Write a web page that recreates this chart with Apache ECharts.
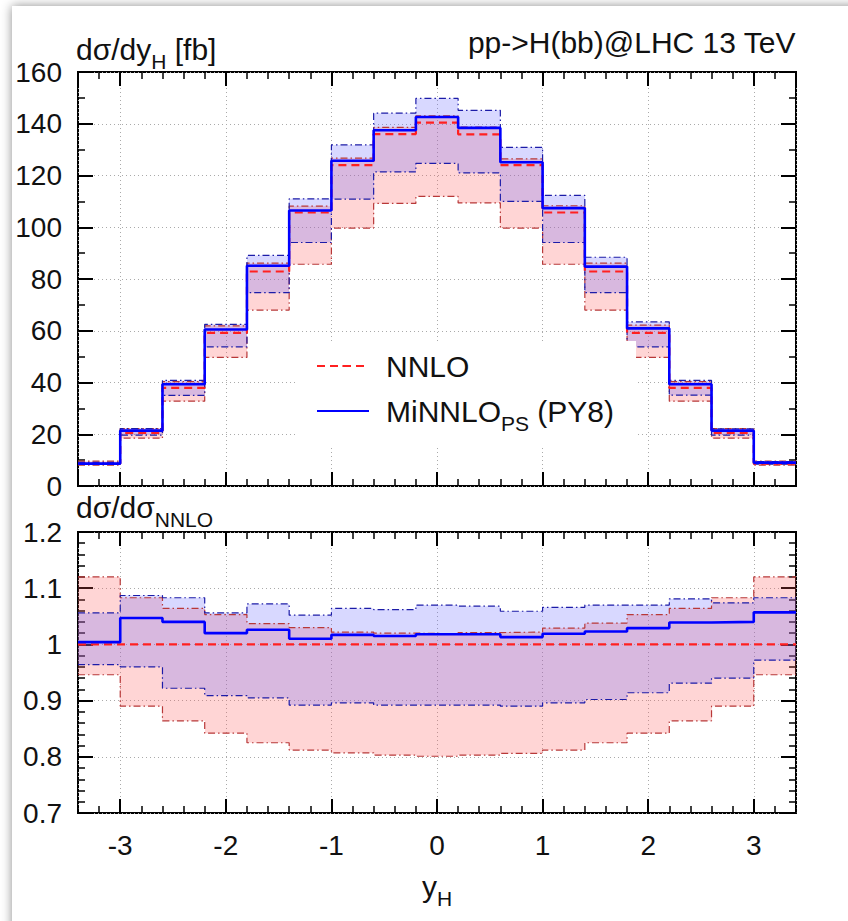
<!DOCTYPE html>
<html>
<head>
<meta charset="utf-8">
<script src="https://cdn.jsdelivr.net/npm/echarts@6/dist/echarts.min.js"></script>
<style>
html, body { margin: 0; padding: 0; width: 848px; height: 921px; overflow: hidden; background: #fff; }
#sheet { position: absolute; left: 12px; top: 6px; width: 900px; height: 960px; background: #fff; box-shadow: 0 0 10px rgba(0,0,0,0.45); }
#chart { position: absolute; left: 0; top: 0; width: 848px; height: 921px; }
</style>
</head>
<body>
<div id="sheet"></div>
<div id="chart"></div>
<script>
// bin edges in y_H (17 bins of width 0.4)
var edges = [-3.4, -3.0, -2.6, -2.2, -1.8, -1.4, -1.0, -0.6, -0.2, 0.2, 0.6, 1.0, 1.4, 1.8, 2.2, 2.6, 3.0, 3.4]

// upper panel: dsigma/dy_H [fb]
var nnlo      = [8.6, 20.5, 37.9, 59.2, 82.9, 105.7, 124.0, 136.0, 140.4, 135.9, 124.0, 105.7, 82.9, 59.2, 37.9, 20.5, 8.6]
var nnloUp    = [9.6, 22.2, 40.3, 61.9, 86.1, 108.2, 126.7, 138.6, 143.1, 138.7, 126.4, 108.3, 86.1, 62.2, 40.3, 22.2, 9.6]
var nnloDn    = [8.1, 18.5, 32.8, 49.7, 68.0, 85.7, 99.7, 109.2, 111.9, 109.4, 99.7, 85.7, 68.0, 49.7, 32.8, 18.5, 8.1]
var minnlo    = [8.65, 21.4, 39.3, 60.5, 85.1, 106.5, 125.7, 137.5, 142.6, 138.4, 125.1, 107.4, 84.8, 60.9, 39.3, 21.4, 9.05]
var minnloUp  = [9.1, 22.2, 40.8, 62.5, 89.1, 111.0, 131.8, 144.1, 149.8, 145.2, 130.9, 112.3, 88.4, 63.4, 40.8, 22.1, 9.4]
var minnloDn  = [8.3, 19.7, 35.0, 53.8, 74.7, 94.1, 110.9, 121.4, 124.7, 121.0, 110.0, 94.1, 74.7, 53.8, 35.1, 19.7, 8.4]

// lower panel: ratio to NNLO
var rNnlo     = [1, 1, 1, 1, 1, 1, 1, 1, 1, 1, 1, 1, 1, 1, 1, 1, 1]
var rNnloUp   = [1.120, 1.083, 1.064, 1.053, 1.037, 1.030, 1.022, 1.020, 1.019, 1.021, 1.022, 1.029, 1.038, 1.053, 1.064, 1.083, 1.120]
var rNnloDn   = [0.946, 0.890, 0.864, 0.842, 0.825, 0.812, 0.807, 0.803, 0.801, 0.803, 0.806, 0.812, 0.825, 0.842, 0.864, 0.890, 0.946]
var rMinnlo   = [1.004, 1.047, 1.040, 1.020, 1.026, 1.010, 1.017, 1.015, 1.018, 1.018, 1.013, 1.019, 1.023, 1.029, 1.039, 1.040, 1.057]
var rMinnloUp = [1.056, 1.087, 1.083, 1.056, 1.072, 1.052, 1.064, 1.062, 1.070, 1.068, 1.059, 1.066, 1.070, 1.070, 1.081, 1.074, 1.083]
var rMinnloDn = [0.964, 0.960, 0.922, 0.909, 0.905, 0.892, 0.896, 0.892, 0.892, 0.892, 0.890, 0.896, 0.902, 0.914, 0.931, 0.940, 0.972]

var FONT = "'Liberation Sans', Arial, sans-serif"
var RED = '#ff2020', BLUE = '#0000ff'
var RED_EDGE = '#b83838', BLUE_EDGE = '#1c1ca8'
var RED_FILL = 'rgba(255,87,87,0.25)', BLUE_FILL = 'rgba(99,99,255,0.25)'
var DASHDOT = [7, 3, 1.5, 3]

function steps(vals) {
  return edges.map(function (e, i) { return [e, vals[Math.min(i, vals.length - 1)]] })
}
function bins(up, dn) {
  return up.map(function (v, i) { return [edges[i], edges[i + 1], dn[i], v] })
}

// uncertainty band: one rectangle per bin, drawn through the axes
function band(up, dn, fill, xi, yi) {
  return {
    type: 'custom', xAxisIndex: xi, yAxisIndex: yi, silent: true, z: 2, clip: true,
    encode: { x: [0, 1], y: [2, 3] },
    data: bins(up, dn),
    renderItem: function (params, api) {
      var a = api.coord([api.value(0), api.value(3)])
      var b = api.coord([api.value(1), api.value(2)])
      var x0 = Math.round(a[0]), x1 = Math.round(b[0])
      return { type: 'rect', shape: { x: x0, y: a[1], width: x1 - x0, height: b[1] - a[1] },
        style: { fill: fill, stroke: null } }
    }
  }
}
function edgeLine(vals, color, xi, yi) {
  return { type: 'line', xAxisIndex: xi, yAxisIndex: yi, step: 'end', symbol: 'none', silent: true, z: 3,
    lineStyle: { color: color, width: 1.2, type: DASHDOT }, data: steps(vals) }
}
function central(name, vals, color, type, w, xi, yi) {
  return { name: name, type: 'line', xAxisIndex: xi, yAxisIndex: yi, step: 'end', symbol: 'none', z: 4,
    lineStyle: { color: color, width: w, type: type }, itemStyle: { color: color }, data: steps(vals) }
}

var subRich = {
  a: { fontSize: 30, fontFamily: FONT, fontWeight: 'normal', color: '#111', lineHeight: 32 },
  s: { fontSize: 21, fontFamily: FONT, fontWeight: 'normal', color: '#111', lineHeight: 46, verticalAlign: 'bottom' }
}

function xAxes(grid, labels) {
  var tick = { inside: true, length: 14, lineStyle: { color: '#000', width: 2 } }
  var minor = { inside: true, length: 7, lineStyle: { color: '#000', width: 1.5 } }
  var base = { type: 'value', gridIndex: grid, min: -3.4, max: 3.4, axisLine: { show: false, onZero: false } }
  var axes = [
    Object.assign({}, base, { position: 'bottom', minInterval: 1, maxInterval: 1, axisTick: tick,
      axisLabel: { show: labels, showMinLabel: false, showMaxLabel: false, margin: 18,
        fontSize: 28, fontFamily: FONT, color: '#111' },
      splitLine: { show: true, lineStyle: { color: '#aaa', width: 1, type: [1, 3] } } }),
    Object.assign({}, base, { position: 'top', minInterval: 1, maxInterval: 1, axisTick: tick,
      axisLabel: { show: false }, splitLine: { show: false } }),
    Object.assign({}, base, { position: 'bottom', interval: 0.2, axisTick: minor,
      axisLabel: { show: false }, splitLine: { show: false } }),
    Object.assign({}, base, { position: 'top', interval: 0.2, axisTick: minor,
      axisLabel: { show: false }, splitLine: { show: false } })
  ]
  if (labels) {
    axes[0].name = '{a|y}{s|H}'
    axes[0].nameLocation = 'middle'
    axes[0].nameGap = 50
    axes[0].nameTextStyle = { rich: subRich }
  }
  return axes
}

function yAxes(grid, min, max, interval, minorSplit, fmt) {
  var tick = { inside: true, length: 15, lineStyle: { color: '#000', width: 2 } }
  var minor = { show: true, splitNumber: minorSplit, length: 7, lineStyle: { color: '#000', width: 1.5 } }
  var base = { type: 'value', gridIndex: grid, min: min, max: max, interval: interval,
    axisLine: { show: false, onZero: false }, axisTick: tick, minorTick: minor }
  return [
    Object.assign({}, base, { position: 'left',
      axisLabel: { margin: 16, fontSize: 28, fontFamily: FONT, color: '#111', formatter: fmt },
      splitLine: { show: true, lineStyle: { color: '#aaa', width: 1, type: [1, 3] } } }),
    Object.assign({}, base, { position: 'right', axisLabel: { show: false }, splitLine: { show: false } })
  ]
}

var series = [
  band(nnloUp, nnloDn, RED_FILL, 0, 0),
  band(minnloUp, minnloDn, BLUE_FILL, 0, 0),
  edgeLine(nnloUp, RED_EDGE, 0, 0), edgeLine(nnloDn, RED_EDGE, 0, 0),
  edgeLine(minnloUp, BLUE_EDGE, 0, 0), edgeLine(minnloDn, BLUE_EDGE, 0, 0),
  central('NNLO', nnlo, RED, [8, 5], 2.2, 0, 0),
  central('MiNNLO', minnlo, BLUE, 'solid', 2.6, 0, 0),

  band(rNnloUp, rNnloDn, RED_FILL, 4, 2),
  band(rMinnloUp, rMinnloDn, BLUE_FILL, 4, 2),
  edgeLine(rNnloUp, RED_EDGE, 4, 2), edgeLine(rNnloDn, RED_EDGE, 4, 2),
  edgeLine(rMinnloUp, BLUE_EDGE, 4, 2), edgeLine(rMinnloDn, BLUE_EDGE, 4, 2),
  central('NNLO', rNnlo, RED, [8, 5], 2.2, 4, 2),
  central('MiNNLO', rMinnlo, BLUE, 'solid', 2.6, 4, 2)
]

var chart = echarts.init(document.getElementById('chart'), null, { renderer: 'svg' })
chart.setOption({
  animation: false,
  backgroundColor: 'transparent',
  textStyle: { fontFamily: FONT },
  title: [
    { text: '{a|dσ/dy}{s|H}{a| [fb]}', left: 76, top: 26, padding: 0, textStyle: { rich: subRich } },
    { text: 'pp->H(bb)@LHC 13 TeV', right: 52, top: 26, padding: 0,
      textStyle: { fontSize: 30, fontWeight: 'normal', fontFamily: FONT, color: '#111', lineHeight: 32 } },
    { text: '{a|dσ/dσ}{s|NNLO}', left: 76, top: 484, padding: 0, textStyle: { rich: subRich } }
  ],
  legend: {
    data: ['NNLO', 'MiNNLO'], orient: 'vertical', left: 297, top: 341,
    padding: [10, 22, 14, 19], itemGap: 15, itemWidth: 52, itemHeight: 2,
    backgroundColor: '#fff',
    formatter: function (n) { return n === 'MiNNLO' ? '{a|MiNNLO}{s|PS}{a| (PY8)}' : '{a|NNLO}' },
    textStyle: { padding: [0, 0, 0, 12], rich: subRich }
  },
  grid: [
    { left: 78, top: 72, width: 718, height: 414, show: true, borderColor: '#000', borderWidth: 2, backgroundColor: 'transparent' },
    { left: 78, top: 532, width: 718, height: 281, show: true, borderColor: '#000', borderWidth: 2, backgroundColor: 'transparent' }
  ],
  xAxis: xAxes(0, false).concat(xAxes(1, true)),
  yAxis: yAxes(0, 0, 160, 20, 2, null).concat(yAxes(1, 0.7, 1.2, 0.1, 5, function (v) {
    return Math.abs(v - 1) < 1e-9 ? '1' : v.toFixed(1)
  })),
  series: series
})
</script>
</body>
</html>
